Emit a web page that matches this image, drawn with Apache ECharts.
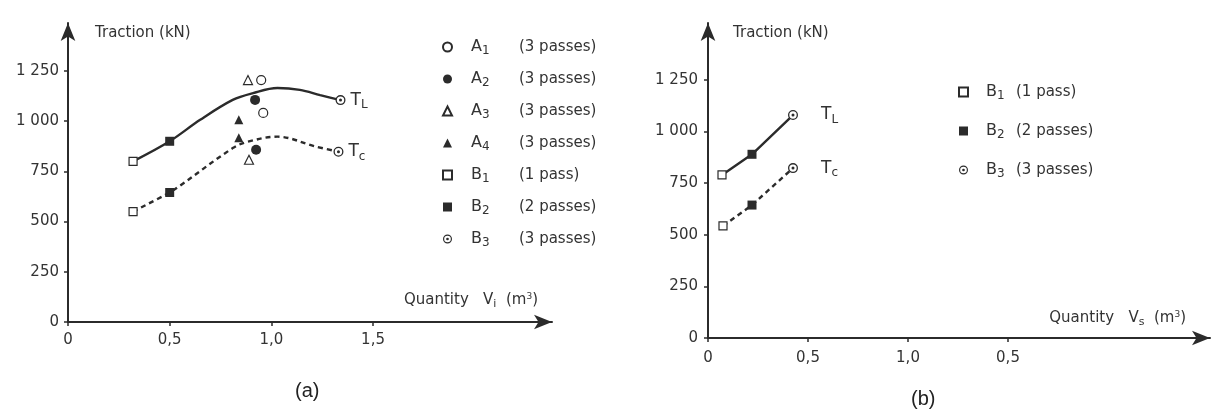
<!DOCTYPE html>
<html>
<head>
<meta charset="utf-8">
<script src="https://cdn.jsdelivr.net/npm/echarts@6/dist/echarts.min.js"></script>
<style>
html,body{margin:0;padding:0;background:#fff;}
#chart{width:1219px;height:414px;}
</style>
</head>
<body>
<div id="chart"></div>
<script>
// ---------- data ----------
// Chart (a) : Quantity Vi
const aXTicks = [0, 0.5, 1.0, 1.5];
const aXTickLabels = ['0', '0,5', '1,0', '1,5'];
const aYTicks = [0, 250, 500, 750, 1000, 1250];
const aYTickLabels = ['0', '250', '500', '750', '1 000', '1 250'];

const aTL_x = [0.32, 0.5, 0.65, 0.81, 0.91, 1.03, 1.14, 1.24, 1.34];
const aTL_y = [800, 900, 1007, 1106, 1140, 1165, 1156, 1130, 1105];
const aTC_x = [0.32, 0.5, 0.55, 0.81, 0.885, 1.03, 1.22, 1.33];
const aTC_y = [550, 645, 678, 866, 898, 923, 873, 848];

const aA1_x = [0.95, 0.96];   const aA1_y = [1205, 1041];
const aA2_x = [0.92, 0.925];  const aA2_y = [1106, 858];
const aA3_x = [0.885, 0.89];  const aA3_y = [1205, 808];
const aA4_x = [0.84, 0.84];   const aA4_y = [1007, 918];
const aB1_x = [0.32, 0.32];   const aB1_y = [800, 550];
const aB2_x = [0.5, 0.5];     const aB2_y = [900, 645];
const aB3_x = [1.34, 1.33];   const aB3_y = [1105, 848];

// Chart (b) : Quantity Vs
const bXTicks = [0, 0.5, 1.0, 1.5];
const bXTickLabels = ['0', '0,5', '1,0', '0,5'];
const bYTicks = [0, 250, 500, 750, 1000, 1250];
const bYTickLabels = ['0', '250', '500', '750', '1 000', '1 250'];

const bTL_x = [0.07, 0.22, 0.425];  const bTL_y = [790, 890, 1080];
const bTC_x = [0.075, 0.22, 0.425]; const bTC_y = [543, 644, 823];
const bB1_x = [0.07, 0.075]; const bB1_y = [790, 543];
const bB2_x = [0.22, 0.22];  const bB2_y = [890, 644];
const bB3_x = [0.425, 0.425]; const bB3_y = [1080, 823];

// legend texts
const legendNames = ['A1', 'A2', 'A3', 'A4', 'B1', 'B2', 'B3'];
const legendPasses = {A1: '(3 passes)', A2: '(3 passes)', A3: '(3 passes)', A4: '(3 passes)',
                      B1: '(1 pass)', B2: '(2 passes)', B3: '(3 passes)'};
const rightLegendNames = ['B1', 'B2', 'B3'];

// ---------- styling ----------
const INK = '#2b2b2b';
const TXT = '#333';
const FONT = 'DejaVu Sans';
const ODOT = 'path://M0,-10A10,10,0,1,1,0,10A10,10,0,1,1,0,-10ZM0,-7.4A7.4,7.4,0,1,0,0,7.4A7.4,7.4,0,1,0,0,-7.4ZM0,-3A3,3,0,1,1,0,3A3,3,0,1,1,0,-3Z';

const zip = (xs, ys) => xs.map((x, i) => [x, ys[i]]);

function valueAxisX(grid, max, ticks, labels, margin, nameRich, nameGap, namePad) {
  return {
    type: 'value', gridIndex: grid, min: 0, max: max,
    name: nameRich, nameLocation: 'end', nameGap: nameGap,
    nameTextStyle: {
      align: 'right', verticalAlign: 'bottom', padding: namePad, color: TXT,
      fontFamily: FONT, fontSize: 15,
      rich: {
        t: {fontFamily: FONT, fontSize: 15, color: TXT},
        s: {fontFamily: FONT, fontSize: 11, color: TXT, padding: [8, 0, 0, 0]},
        p: {fontFamily: FONT, fontSize: 9, color: TXT, padding: [0, 0, 8, 0]}
      }
    },
    axisLine: {show: true, onZero: false, lineStyle: {color: INK, width: 2},
               symbol: ['none', 'arrow'], symbolSize: [11, 18]},
    axisTick: {show: true, customValues: ticks, length: 4, lineStyle: {color: INK, width: 1.5}},
    axisLabel: {show: true, customValues: ticks, margin: margin, color: TXT,
                fontFamily: FONT, fontSize: 15,
                formatter: v => { const i = ticks.findIndex(t => Math.abs(t - v) < 1e-6); return i >= 0 ? labels[i] : ''; }},
    splitLine: {show: false}
  };
}
function valueAxisY(grid, max, ticks, labels, margin, namePadLeft) {
  return {
    type: 'value', gridIndex: grid, min: 0, max: max,
    name: 'Traction (kN)', nameLocation: 'end', nameGap: -10,
    nameTextStyle: {align: 'left', verticalAlign: 'middle', padding: [0, 0, 0, namePadLeft],
                    color: TXT, fontFamily: FONT, fontSize: 15},
    axisLine: {show: true, onZero: false, lineStyle: {color: INK, width: 2},
               symbol: ['none', 'arrow'], symbolSize: [11, 18]},
    axisTick: {show: true, customValues: ticks, length: 4, lineStyle: {color: INK, width: 1.5}},
    axisLabel: {show: true, customValues: ticks, margin: margin, color: TXT,
                fontFamily: FONT, fontSize: 15,
                formatter: v => { const i = ticks.findIndex(t => Math.abs(t - v) < 1e-6); return i >= 0 ? labels[i] : ''; }},
    splitLine: {show: false}
  };
}

const tRich = {
  t: {fontFamily: FONT, fontSize: 17, color: TXT},
  s: {fontFamily: FONT, fontSize: 12, color: TXT, padding: [10, 0, 0, 0]}
};
function curve(name, xi, xs, ys, dashed, smooth, sub, dist) {
  return {
    type: 'line', name: name, xAxisIndex: xi, yAxisIndex: xi,
    data: zip(xs, ys), smooth: smooth, showSymbol: false, silent: true, z: 1,
    lineStyle: {color: INK, width: 2.4, type: dashed ? [5, 4] : 'solid'},
    endLabel: {show: true, distance: dist, formatter: '{t|T}{s|' + sub + '}', rich: tRich}
  };
}
function marks(name, xi, xs, ys, symbol, size, filled, z) {
  return {
    type: 'scatter', name: name, xAxisIndex: xi, yAxisIndex: xi,
    data: zip(xs, ys), symbol: symbol, symbolSize: size, z: z || 3,
    itemStyle: filled ? {color: INK, borderWidth: 0, opacity: 1}
                      : {color: '#fff', borderColor: INK, borderWidth: 1.2, opacity: 1}
  };
}
function under(xi, xs, ys) {
  return {type: 'scatter', name: 'bg', xAxisIndex: xi, yAxisIndex: xi, data: zip(xs, ys),
          symbol: 'circle', symbolSize: 9, z: 2, itemStyle: {color: '#fff', opacity: 1}};
}

function legendFmt() {
  return name => '{n|' + name[0] + '}{s|' + name.slice(1) + '}{p|' + legendPasses[name] + '}';
}
function legendRich(padL, subW) {
  return {
    n: {fontFamily: FONT, fontSize: 16, color: TXT, padding: [0, 0, 0, padL]},
    s: {fontFamily: FONT, fontSize: 12, color: TXT, width: subW, padding: [8, 0, 0, 0]},
    p: {fontFamily: FONT, fontSize: 15, color: TXT}
  };
}

const option = {
  animation: false,
  backgroundColor: '#fff',
  grid: [
    {left: 68, top: 23, width: 484, height: 299},
    {left: 708, top: 23, width: 502, height: 315}
  ],
  xAxis: [
    valueAxisX(0, 2.38, aXTicks, aXTickLabels, 11,
      '{t|Quantity   V}{s|i}{t|  (m}{p|3}{t|)}', -14, [0, 0, 12, 0]),
    valueAxisX(1, 2.51, bXTicks, bXTickLabels, 13,
      '{t|Quantity   V}{s|s}{t|  (m}{p|3}{t|)}', -24, [0, 0, 10, 0])
  ],
  yAxis: [
    valueAxisY(0, 1489, aYTicks, aYTickLabels, 9, 27),
    valueAxisY(1, 1526, bYTicks, bYTickLabels, 10, 25)
  ],
  legend: [
    {
      data: legendNames, orient: 'vertical', left: 437, top: 34,
      itemWidth: 9, itemHeight: 9, itemGap: 14, selectedMode: false,
      formatter: legendFmt(), textStyle: {rich: legendRich(14, 37)}
    },
    {
      data: rightLegendNames, orient: 'vertical', left: 953, top: 79,
      itemWidth: 9, itemHeight: 9, itemGap: 21, selectedMode: false,
      formatter: legendFmt(), textStyle: {rich: legendRich(13, 19)}
    }
  ],
  graphic: [
    {type: 'text', left: 295, top: 381, style: {text: '(a)', font: '20px "Liberation Sans"', fill: '#222'}},
    {type: 'text', left: 911, top: 389, style: {text: '(b)', font: '20px "Liberation Sans"', fill: '#222'}}
  ],
  series: [
    curve('TL', 0, aTL_x, aTL_y, false, 0.35, 'L', 10),
    curve('TC', 0, aTC_x, aTC_y, true, 0.35, 'c', 10),
    marks('A1', 0, aA1_x, aA1_y, 'circle', 9, false),
    marks('A2', 0, aA2_x, aA2_y, 'circle', 10, true),
    marks('A3', 0, aA3_x, aA3_y, 'triangle', 9, false),
    marks('A4', 0, aA4_x, aA4_y, 'triangle', 9, true),
    marks('B1', 0, aB1_x, aB1_y, 'rect', 8, false),
    marks('B2', 0, aB2_x, aB2_y, 'rect', 9, true),
    under(0, aB3_x, aB3_y),
    marks('B3', 0, aB3_x, aB3_y, ODOT, 10, true, 4),

    curve('TL', 1, bTL_x, bTL_y, false, false, 'L', 28),
    curve('TC', 1, bTC_x, bTC_y, true, false, 'c', 28),
    marks('B1', 1, bB1_x, bB1_y, 'rect', 8, false),
    marks('B2', 1, bB2_x, bB2_y, 'rect', 9, true),
    under(1, bB3_x, bB3_y),
    marks('B3', 1, bB3_x, bB3_y, ODOT, 10, true, 4)
  ]
};

const chart = echarts.init(document.getElementById('chart'), null, {renderer: 'canvas'});
chart.setOption(option);
</script>
</body>
</html>
